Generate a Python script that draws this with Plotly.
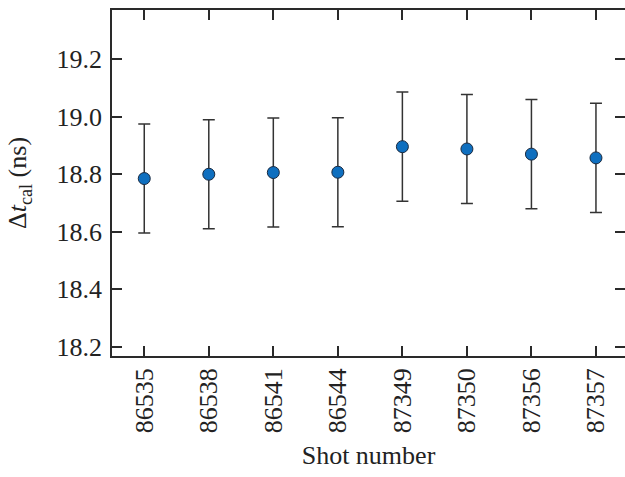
import plotly.graph_objects as go

shots = ["86535", "86538", "86541", "86544", "87349", "87350", "87356", "87357"]
dt_cal = [18.785, 18.800, 18.806, 18.807, 18.896, 18.888, 18.870, 18.857]
err = [0.19, 0.19, 0.19, 0.19, 0.19, 0.19, 0.19, 0.19]
y_ticks = [18.2, 18.4, 18.6, 18.8, 19.0, 19.2]

font = "Liberation Serif"
axcol = "#2a2a2a"
fs = 26

fig = go.Figure()
fig.add_trace(go.Scatter(
    x=list(range(len(shots))), y=dt_cal, mode="markers",
    marker=dict(size=12, color="#0f6fbf", line=dict(color="#1a2a40", width=1)),
    error_y=dict(type="data", array=err, visible=True, color="#333333",
                 thickness=1.5, width=6),
    showlegend=False, hoverinfo="skip",
))

fig.update_layout(
    width=625, height=477, autosize=False,
    margin=dict(l=112, r=0, t=10, b=121, autoexpand=False),
    paper_bgcolor="white", plot_bgcolor="white",
    font=dict(family=font, size=fs, color="#222"),
)
fig.update_xaxes(
    range=[-0.50, 7.45], tickmode="array", tickvals=list(range(len(shots))),
    ticktext=shots, tickangle=-90, ticks="inside", ticklen=10, tickwidth=1.5,
    tickcolor=axcol, showline=True, linecolor=axcol, linewidth=1.5, mirror="ticks",
    showgrid=False, zeroline=False, tickfont=dict(family=font, size=fs),
    automargin=False,
    title=dict(text="Shot number", font=dict(family=font, size=fs), standoff=14),
)
fig.update_yaxes(
    range=[18.167, 19.372], tickmode="array", tickvals=y_ticks,
    ticktext=[f"{v:.1f}" for v in y_ticks], ticks="inside", ticklen=10, tickwidth=1.5,
    tickcolor=axcol, showline=True, linecolor=axcol, linewidth=1.5, mirror="ticks",
    showgrid=False, zeroline=False, tickfont=dict(family=font, size=fs),
    ticklabelstandoff=3, automargin=False,
    title=dict(text="Δ<i>t</i><sub>cal</sub> (ns)", font=dict(family=font, size=fs), standoff=22),
)
fig.write_html("out.html", config={"displayModeBar": False},
               post_script="document.body.style.margin='0';document.body.style.overflow='hidden';")
